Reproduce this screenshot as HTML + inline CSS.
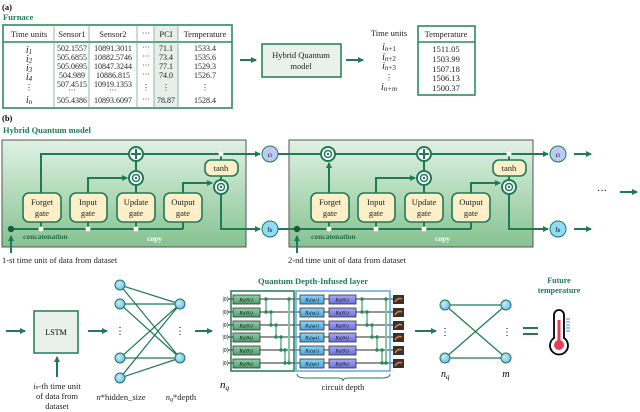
<!DOCTYPE html>
<html><head><meta charset="utf-8"><style>
html,body{margin:0;padding:0;background:#fff;}
svg{display:block;font-family:"Liberation Serif",serif;}
.g{fill:#1f7a55;}
.ln{stroke:#1f7a55;stroke-width:2;fill:none;}
.tb{stroke:#2e8a62;fill:none;stroke-width:1.6;}
.th{stroke:#6fae90;stroke-width:0.8;}
.gate{fill:#fdf0c8;stroke:#1f7a55;stroke-width:1.6;}
.t{font-size:8.5px;fill:#222;}
.gt{font-size:8.5px;fill:#222;}
.wire{stroke:#555;stroke-width:1.3;}
.cx{stroke:#86c4a4;stroke-width:2;}
</style></head><body>
<svg width="640" height="412" viewBox="0 0 640 412">
<defs>
<marker id="ar" markerWidth="6" markerHeight="6" refX="5" refY="3" orient="auto" markerUnits="userSpaceOnUse"><path d="M0,0 L6,3 L0,6 z" fill="#1f7a55"/></marker>
<linearGradient id="cg" x1="0" y1="0" x2="0" y2="1"><stop offset="0" stop-color="#dff2e4"/><stop offset="1" stop-color="#86c290"/></linearGradient>
<linearGradient id="gg" x1="0" y1="0" x2="0" y2="1"><stop offset="0" stop-color="#8fd0a4"/><stop offset="1" stop-color="#4e9e6c"/></linearGradient>
<linearGradient id="bg" x1="0" y1="0" x2="0" y2="1"><stop offset="0" stop-color="#8fd2f5"/><stop offset="1" stop-color="#4aa4dc"/></linearGradient>
<linearGradient id="pg" x1="0" y1="0" x2="0" y2="1"><stop offset="0" stop-color="#a6a9f5"/><stop offset="1" stop-color="#6a6fdc"/></linearGradient>
<radialGradient id="nd" cx="0.4" cy="0.4" r="0.7"><stop offset="0" stop-color="#c9ecfb"/><stop offset="1" stop-color="#5fb6e4"/></radialGradient>
</defs>

<!-- (a) -->
<text x="2" y="10" font-size="8.5" font-weight="bold">(a)</text>
<text x="3" y="20" font-size="8.5" font-weight="bold" class="g">Furnace</text>
<rect x="154" y="25" width="24" height="83" fill="#e6efea"/>
<rect x="3" y="25" width="229" height="83" class="tb"/>
<line x1="3" y1="42" x2="232" y2="42" class="tb"/>
<g class="th"><line x1="54" y1="25" x2="54" y2="108"/><line x1="89" y1="25" x2="89" y2="108"/><line x1="137" y1="25" x2="137" y2="108"/><line x1="154" y1="25" x2="154" y2="108"/><line x1="178" y1="25" x2="178" y2="108"/></g>
<g class="t" text-anchor="middle">
<text x="29" y="37">Time units</text><text x="72" y="37">Sensor1</text><text x="113" y="37">Sensor2</text><text x="146" y="36">···</text><text x="166" y="37">PCI</text><text x="205" y="37">Temperature</text>
<g font-style="italic" font-size="10"><text x="29" y="53">i<tspan font-size="7" dy="1">1</tspan></text><text x="29" y="62">i<tspan font-size="7" dy="1">2</tspan></text><text x="29" y="71">i<tspan font-size="7" dy="1">3</tspan></text><text x="29" y="80">i<tspan font-size="7" dy="1">4</tspan></text><text x="29" y="103">i<tspan font-size="7" dy="1">n</tspan></text></g>
<text x="29" y="90">⋮</text>
<g font-size="8"><text x="72" y="51">502.1557</text><text x="72" y="60">505.6855</text><text x="72" y="69">505.0695</text><text x="72" y="78">504.989</text><text x="72" y="87">507.4515</text><text x="72" y="93">···</text><text x="72" y="103">505.4386</text>
<text x="113" y="51">10891.3011</text><text x="113" y="60">10882.5746</text><text x="113" y="69">10847.3244</text><text x="113" y="78">10886.815</text><text x="113" y="87">10919.1353</text><text x="113" y="93">···</text><text x="113" y="103">10893.6097</text>
<text x="146" y="50">···</text><text x="146" y="59">···</text><text x="146" y="68">···</text><text x="146" y="77">···</text><text x="146" y="90">⋮</text><text x="146" y="102">···</text>
<text x="166" y="51">71.1</text><text x="166" y="60">73.4</text><text x="166" y="69">77.1</text><text x="166" y="78">74.0</text><text x="166" y="90">⋮</text><text x="166" y="103">78.87</text>
<text x="205" y="51">1533.4</text><text x="205" y="60">1535.6</text><text x="205" y="69">1529.3</text><text x="205" y="78">1526.7</text><text x="205" y="90">⋮</text><text x="205" y="103">1528.4</text></g>
</g>
<line x1="240" y1="60" x2="256" y2="60" class="ln" marker-end="url(#ar)"/>
<rect x="262" y="44" width="79" height="33" fill="#eaf0ec" stroke="#1f7a55" stroke-width="1.5"/>
<text x="301" y="58" class="t" font-size="8" text-anchor="middle">Hybrid Quantum</text>
<text x="301" y="69" class="t" font-size="8" text-anchor="middle">model</text>
<line x1="346" y1="60" x2="363" y2="60" class="ln" marker-end="url(#ar)"/>
<g class="t" text-anchor="middle"><text x="389" y="36">Time units</text>
<g font-style="italic" font-size="10"><text x="389" y="50">i<tspan font-size="7" dy="1">n</tspan><tspan font-style="normal" font-size="7">+1</tspan></text><text x="389" y="60">i<tspan font-size="7" dy="1">n</tspan><tspan font-style="normal" font-size="7">+2</tspan></text><text x="389" y="69">i<tspan font-size="7" dy="1">n</tspan><tspan font-style="normal" font-size="7">+3</tspan></text><text x="389" y="90">i<tspan font-size="7" dy="1">n+m</tspan></text></g>
<text x="389" y="80">⋮</text></g>
<rect x="418" y="26" width="57" height="69" class="tb"/>
<line x1="418" y1="42" x2="475" y2="42" class="tb"/>
<g class="t" text-anchor="middle" font-size="8"><text x="446" y="37" font-size="8.5">Temperature</text><text x="446" y="52">1511.05</text><text x="446" y="62">1503.99</text><text x="446" y="72">1507.18</text><text x="446" y="81">1506.13</text><text x="446" y="91">1500.37</text></g>

<!-- (b) -->
<text x="2" y="121" font-size="8.5" font-weight="bold">(b)</text>
<text x="3" y="133" font-size="8.5" font-weight="bold" class="g">Hybrid Quantum model</text>

<!-- cell 1 -->
<g>
<rect x="2" y="140" width="244" height="107" fill="url(#cg)" stroke="#555" stroke-width="1"/>
<path d="M41 193 V154 H129" class="ln"/>
<path d="M143 154 H260" class="ln" marker-end="url(#ar)"/>
<path d="M88 193 V178 H127" class="ln" marker-end="url(#ar)"/>
<path d="M136 193 V185 M136 171 V161 M221 154 V160 M221 176 V180" class="ln"/>
<path d="M183 193 V183 H212" class="ln" marker-end="url(#ar)"/>
<path d="M221 194 V229 H260" class="ln" marker-end="url(#ar)"/>
<path d="M11 229 H183 M41 222 V229 M88 222 V229 M136 222 V229 M183 222 V229" class="ln"/>
<path d="M11 253 V236" class="ln" marker-end="url(#ar)"/>
<rect x="23" y="193" width="38" height="29" rx="6" class="gate"/><text x="42" y="205" class="gt" text-anchor="middle">Forget</text><text x="42" y="216" class="gt" text-anchor="middle">gate</text>
<rect x="70" y="193" width="37" height="29" rx="6" class="gate"/><text x="88" y="205" class="gt" text-anchor="middle">Input</text><text x="88" y="216" class="gt" text-anchor="middle">gate</text>
<rect x="117" y="193" width="38" height="29" rx="6" class="gate"/><text x="136" y="205" class="gt" text-anchor="middle">Update</text><text x="136" y="216" class="gt" text-anchor="middle">gate</text>
<rect x="164" y="193" width="38" height="29" rx="6" class="gate"/><text x="183" y="205" class="gt" text-anchor="middle">Output</text><text x="183" y="216" class="gt" text-anchor="middle">gate</text>
<rect x="205" y="160" width="33" height="16" rx="6" class="gate"/><text x="221" y="171" class="gt" text-anchor="middle">tanh</text>
<circle cx="136" cy="154" r="7" fill="#fff" stroke="#1f7a55" stroke-width="2"/><path d="M131 154 H141 M136 149 V159" class="ln"/>
<circle cx="136" cy="178" r="7" fill="#fff" stroke="#1f7a55" stroke-width="2"/><circle cx="136" cy="178" r="3.5" fill="none" stroke="#1f7a55" stroke-width="1.5"/><circle cx="136" cy="178" r="1.2" class="g"/>
<circle cx="221" cy="187" r="7" fill="#fff" stroke="#1f7a55" stroke-width="2"/><circle cx="221" cy="187" r="3.5" fill="none" stroke="#1f7a55" stroke-width="1.5"/><circle cx="221" cy="187" r="1.2" class="g"/>
<g fill="#fff"><circle cx="41" cy="229" r="2.5"/><circle cx="88" cy="229" r="2.5"/><circle cx="136" cy="229" r="2.5"/><circle cx="221" cy="154" r="2.5"/></g>
<circle cx="11" cy="229" r="3.2" fill="#1a5a3e"/>
<text x="23" y="239" font-size="7.5" font-weight="bold" fill="#1f6a4a">concatenation</text>
<text x="147" y="241" font-size="7.5" font-weight="bold" fill="#fff">copy</text>
<text x="2" y="263" class="t" font-size="8">1-st time unit of data from dataset</text>
</g>
<circle cx="270" cy="154" r="8" fill="#bccbf6" stroke="#1f7a55" stroke-width="1"/><text x="270" y="157" font-size="7" font-style="italic" text-anchor="middle">c<tspan font-size="5">t</tspan></text>
<circle cx="270" cy="229" r="8" fill="#8edcf8" stroke="#1f7a55" stroke-width="1"/><text x="270" y="232" font-size="7" font-style="italic" text-anchor="middle">h<tspan font-size="5">t</tspan></text>

<!-- cell 2 -->
<g transform="translate(288,0)">
<rect x="1" y="140" width="244" height="107" fill="url(#cg)" stroke="#555" stroke-width="1"/>
<path d="M-10 154 H33 M47 154 H129" class="ln"/>
<path d="M41 193 V163" class="ln" marker-end="url(#ar)"/>
<path d="M143 154 H260" class="ln" marker-end="url(#ar)"/>
<path d="M88 193 V178 H127" class="ln" marker-end="url(#ar)"/>
<path d="M136 193 V185 M136 171 V161 M221 154 V160 M221 176 V180" class="ln"/>
<path d="M183 193 V183 H212" class="ln" marker-end="url(#ar)"/>
<path d="M221 194 V229 H260" class="ln" marker-end="url(#ar)"/>
<path d="M-10 229 H183 M41 222 V229 M88 222 V229 M136 222 V229 M183 222 V229" class="ln"/>
<path d="M9 253 V236" class="ln" marker-end="url(#ar)"/>
<rect x="23" y="193" width="38" height="29" rx="6" class="gate"/><text x="42" y="205" class="gt" text-anchor="middle">Forget</text><text x="42" y="216" class="gt" text-anchor="middle">gate</text>
<rect x="70" y="193" width="37" height="29" rx="6" class="gate"/><text x="88" y="205" class="gt" text-anchor="middle">Input</text><text x="88" y="216" class="gt" text-anchor="middle">gate</text>
<rect x="117" y="193" width="38" height="29" rx="6" class="gate"/><text x="136" y="205" class="gt" text-anchor="middle">Update</text><text x="136" y="216" class="gt" text-anchor="middle">gate</text>
<rect x="164" y="193" width="38" height="29" rx="6" class="gate"/><text x="183" y="205" class="gt" text-anchor="middle">Output</text><text x="183" y="216" class="gt" text-anchor="middle">gate</text>
<rect x="205" y="160" width="33" height="16" rx="6" class="gate"/><text x="221" y="171" class="gt" text-anchor="middle">tanh</text>
<circle cx="40" cy="154" r="7" fill="#fff" stroke="#1f7a55" stroke-width="2"/><circle cx="40" cy="154" r="3.5" fill="none" stroke="#1f7a55" stroke-width="1.5"/><circle cx="40" cy="154" r="1.2" class="g"/>
<circle cx="136" cy="154" r="7" fill="#fff" stroke="#1f7a55" stroke-width="2"/><path d="M131 154 H141 M136 149 V159" class="ln"/>
<circle cx="136" cy="178" r="7" fill="#fff" stroke="#1f7a55" stroke-width="2"/><circle cx="136" cy="178" r="3.5" fill="none" stroke="#1f7a55" stroke-width="1.5"/><circle cx="136" cy="178" r="1.2" class="g"/>
<circle cx="221" cy="187" r="7" fill="#fff" stroke="#1f7a55" stroke-width="2"/><circle cx="221" cy="187" r="3.5" fill="none" stroke="#1f7a55" stroke-width="1.5"/><circle cx="221" cy="187" r="1.2" class="g"/>
<g fill="#fff"><circle cx="41" cy="229" r="2.5"/><circle cx="88" cy="229" r="2.5"/><circle cx="136" cy="229" r="2.5"/><circle cx="221" cy="154" r="2.5"/></g>
<circle cx="9" cy="229" r="3.2" fill="#1a5a3e"/>
<text x="23" y="239" font-size="7.5" font-weight="bold" fill="#1f6a4a">concatenation</text>
<text x="147" y="241" font-size="7.5" font-weight="bold" fill="#fff">copy</text>
<text x="0" y="263" class="t" font-size="8">2-nd time unit of data from dataset</text>
</g>
<circle cx="558" cy="154" r="8" fill="#bccbf6" stroke="#1f7a55" stroke-width="1"/><text x="558" y="157" font-size="7" font-style="italic" text-anchor="middle">c<tspan font-size="5">t</tspan></text>
<circle cx="558" cy="229" r="8" fill="#8edcf8" stroke="#1f7a55" stroke-width="1"/><text x="558" y="232" font-size="7" font-style="italic" text-anchor="middle">h<tspan font-size="5">t</tspan></text>
<line x1="574" y1="154" x2="591" y2="154" class="ln" marker-end="url(#ar)"/>
<line x1="574" y1="229" x2="591" y2="229" class="ln" marker-end="url(#ar)"/>
<text x="602" y="194" font-size="10" text-anchor="middle">···</text>
<line x1="620" y1="192" x2="637" y2="192" class="ln" marker-end="url(#ar)"/>

<!-- bottom -->
<line x1="6" y1="331" x2="25" y2="331" class="ln" marker-end="url(#ar)"/>
<rect x="34" y="311" width="44" height="42" fill="#eaf0ec" stroke="#1f7a55" stroke-width="1.5"/>
<text x="56" y="335" font-size="8" text-anchor="middle">LSTM</text>
<line x1="57" y1="377" x2="57" y2="357" class="ln" marker-end="url(#ar)"/>
<g class="t" font-size="8" text-anchor="middle"><text x="57" y="389"><tspan font-style="italic">i<tspan font-size="6">n</tspan></tspan>-th time unit</text><text x="57" y="399">of data from</text><text x="57" y="409">dataset</text></g>
<line x1="88" y1="331" x2="107" y2="331" class="ln" marker-end="url(#ar)"/>
<g stroke="#1f7a55" stroke-width="1.2">
<line x1="120" y1="285" x2="180" y2="304"/><line x1="120" y1="285" x2="180" y2="358"/>
<line x1="120" y1="304" x2="180" y2="304"/><line x1="120" y1="304" x2="180" y2="358"/>
<line x1="120" y1="358" x2="180" y2="304"/><line x1="120" y1="358" x2="180" y2="358"/>
<line x1="120" y1="378" x2="180" y2="304"/><line x1="120" y1="378" x2="180" y2="358"/>
</g>
<g fill="url(#nd)" stroke="#1f7a55" stroke-width="1"><circle cx="120" cy="285" r="5"/><circle cx="120" cy="304" r="5"/><circle cx="120" cy="358" r="5"/><circle cx="120" cy="378" r="5"/><circle cx="180" cy="304" r="5"/><circle cx="180" cy="358" r="5"/></g>
<text x="120" y="334" font-size="10" text-anchor="middle">⋮</text><text x="180" y="334" font-size="10" text-anchor="middle">⋮</text>
<g class="t" font-size="8" text-anchor="middle"><text x="121" y="400"><tspan font-style="italic">n</tspan>*hidden_size</text><text x="181" y="400"><tspan font-style="italic">n<tspan font-size="6" dy="1">q</tspan></tspan><tspan dy="-1">*depth</tspan></text></g>
<line x1="195" y1="331" x2="212" y2="331" class="ln" marker-end="url(#ar)"/>

<!-- quantum -->
<text x="313" y="284" font-size="8.5" font-weight="bold" class="g" text-anchor="middle">Quantum Depth-Infused layer</text>
<g class="wire"><line x1="228" y1="299" x2="393" y2="299"/><line x1="228" y1="312" x2="393" y2="312"/><line x1="228" y1="325" x2="393" y2="325"/><line x1="228" y1="337" x2="393" y2="337"/><line x1="228" y1="350" x2="393" y2="350"/><line x1="228" y1="363" x2="393" y2="363"/></g>
<g font-size="6" text-anchor="end"><text x="229" y="301">|0⟩</text><text x="229" y="314">|0⟩</text><text x="229" y="327">|0⟩</text><text x="229" y="339">|0⟩</text><text x="229" y="352">|0⟩</text><text x="229" y="365">|0⟩</text></g>
<g class="cx">
<line x1="266" y1="299" x2="266" y2="312"/><line x1="271" y1="312" x2="271" y2="325"/><line x1="276" y1="325" x2="276" y2="337"/><line x1="281" y1="337" x2="281" y2="350"/><line x1="285" y1="350" x2="285" y2="363"/><line x1="289" y1="299" x2="289" y2="363"/>
<line x1="362" y1="299" x2="362" y2="312"/><line x1="367" y1="312" x2="367" y2="325"/><line x1="372" y1="325" x2="372" y2="337"/><line x1="377" y1="337" x2="377" y2="350"/><line x1="382" y1="350" x2="382" y2="363"/><line x1="386" y1="299" x2="386" y2="363"/>
</g>
<g fill="#2a8a5e">
<circle cx="266" cy="299" r="1.8"/><circle cx="266" cy="312" r="1.8"/><circle cx="271" cy="312" r="1.8"/><circle cx="271" cy="325" r="1.8"/><circle cx="276" cy="325" r="1.8"/><circle cx="276" cy="337" r="1.8"/><circle cx="281" cy="337" r="1.8"/><circle cx="281" cy="350" r="1.8"/><circle cx="285" cy="350" r="1.8"/><circle cx="285" cy="363" r="1.8"/><circle cx="289" cy="299" r="1.8"/><circle cx="289" cy="363" r="1.8"/>
<circle cx="362" cy="299" r="1.8"/><circle cx="362" cy="312" r="1.8"/><circle cx="367" cy="312" r="1.8"/><circle cx="367" cy="325" r="1.8"/><circle cx="372" cy="325" r="1.8"/><circle cx="372" cy="337" r="1.8"/><circle cx="377" cy="337" r="1.8"/><circle cx="377" cy="350" r="1.8"/><circle cx="382" cy="350" r="1.8"/><circle cx="382" cy="363" r="1.8"/><circle cx="386" cy="299" r="1.8"/><circle cx="386" cy="363" r="1.8"/>
</g>
<g stroke="#333" stroke-width="0.8">
<g fill="url(#gg)"><rect x="233" y="295" width="27" height="9"/><rect x="233" y="308" width="27" height="9"/><rect x="233" y="321" width="27" height="9"/><rect x="233" y="333" width="27" height="9"/><rect x="233" y="346" width="27" height="9"/><rect x="233" y="359" width="27" height="9"/></g>
<g fill="url(#bg)"><rect x="300" y="295" width="24" height="9"/><rect x="300" y="308" width="24" height="9"/><rect x="300" y="321" width="24" height="9"/><rect x="300" y="333" width="24" height="9"/><rect x="300" y="346" width="24" height="9"/><rect x="300" y="359" width="24" height="9"/></g>
<g fill="url(#pg)"><rect x="329" y="295" width="27" height="9"/><rect x="329" y="308" width="27" height="9"/><rect x="329" y="321" width="27" height="9"/><rect x="329" y="333" width="27" height="9"/><rect x="329" y="346" width="27" height="9"/><rect x="329" y="359" width="27" height="9"/></g>
</g>
<g font-size="5.5" font-style="italic" text-anchor="middle" fill="#111">
<text x="246" y="301.5">R<tspan font-size="4">z</tspan>(θ<tspan font-size="4">1</tspan>)</text><text x="246" y="314.5">R<tspan font-size="4">z</tspan>(θ<tspan font-size="4">2</tspan>)</text><text x="246" y="327.5">R<tspan font-size="4">z</tspan>(θ<tspan font-size="4">3</tspan>)</text><text x="246" y="339.5">R<tspan font-size="4">z</tspan>(θ<tspan font-size="4">4</tspan>)</text><text x="246" y="352.5">R<tspan font-size="4">z</tspan>(θ<tspan font-size="4">5</tspan>)</text><text x="246" y="365.5">R<tspan font-size="4">z</tspan>(θ<tspan font-size="4">6</tspan>)</text>
<text x="312" y="301.5">R<tspan font-size="4">x</tspan>(φ<tspan font-size="4">1</tspan>)</text><text x="312" y="314.5">R<tspan font-size="4">x</tspan>(φ<tspan font-size="4">2</tspan>)</text><text x="312" y="327.5">R<tspan font-size="4">x</tspan>(φ<tspan font-size="4">3</tspan>)</text><text x="312" y="339.5">R<tspan font-size="4">x</tspan>(φ<tspan font-size="4">4</tspan>)</text><text x="312" y="352.5">R<tspan font-size="4">x</tspan>(φ<tspan font-size="4">5</tspan>)</text><text x="312" y="365.5">R<tspan font-size="4">x</tspan>(φ<tspan font-size="4">6</tspan>)</text>
<text x="342" y="301.5">R<tspan font-size="4">z</tspan>(θ<tspan font-size="4">1</tspan>)</text><text x="342" y="314.5">R<tspan font-size="4">z</tspan>(θ<tspan font-size="4">2</tspan>)</text><text x="342" y="327.5">R<tspan font-size="4">z</tspan>(θ<tspan font-size="4">3</tspan>)</text><text x="342" y="339.5">R<tspan font-size="4">z</tspan>(θ<tspan font-size="4">4</tspan>)</text><text x="342" y="352.5">R<tspan font-size="4">z</tspan>(θ<tspan font-size="4">5</tspan>)</text><text x="342" y="365.5">R<tspan font-size="4">z</tspan>(θ<tspan font-size="4">6</tspan>)</text>
</g>
<rect x="231" y="291" width="63" height="80" fill="none" stroke="#1f7a55" stroke-width="1.5"/>
<rect x="296" y="291" width="94" height="80" fill="none" stroke="#5aa8e6" stroke-width="1.5"/>
<g>
<rect x="393" y="295" width="11" height="9" fill="#333"/><rect x="393" y="308" width="11" height="9" fill="#333"/><rect x="393" y="321" width="11" height="9" fill="#333"/><rect x="393" y="333" width="11" height="9" fill="#333"/><rect x="393" y="346" width="11" height="9" fill="#333"/><rect x="393" y="359" width="11" height="9" fill="#333"/>
<g fill="none" stroke="#f07a2a" stroke-width="1.5"><path d="M395 302 Q398 297 402 299"/><path d="M395 315 Q398 310 402 312"/><path d="M395 328 Q398 323 402 325"/><path d="M395 340 Q398 335 402 337"/><path d="M395 353 Q398 348 402 350"/><path d="M395 366 Q398 361 402 363"/></g>
</g>
<path d="M297 374 Q297 378 306 378 L338 378 Q343 378 343 381 Q343 378 348 378 L381 378 Q390 378 390 374" fill="none" stroke="#1f7a55" stroke-width="1"/>
<text x="343" y="390" font-size="8" text-anchor="middle" class="t">circuit depth</text>
<text x="220" y="388" font-size="11" font-style="italic">n<tspan font-size="7" dy="2">q</tspan></text>
<line x1="415" y1="331" x2="436" y2="331" class="ln" marker-end="url(#ar)"/>
<g stroke="#1f7a55" stroke-width="1.2"><line x1="445" y1="305" x2="506" y2="305"/><line x1="445" y1="358" x2="506" y2="358"/><line x1="445" y1="305" x2="506" y2="358"/><line x1="445" y1="358" x2="506" y2="305"/></g>
<g fill="url(#nd)" stroke="#1f7a55" stroke-width="1"><circle cx="445" cy="305" r="5"/><circle cx="445" cy="358" r="5"/><circle cx="506" cy="305" r="5"/><circle cx="506" cy="358" r="5"/></g>
<text x="445" y="335" font-size="10" text-anchor="middle">⋮</text><text x="507" y="335" font-size="10" text-anchor="middle">⋮</text>
<text x="441" y="377" font-size="10" font-style="italic">n<tspan font-size="7" dy="2">q</tspan></text>
<text x="506" y="377" font-size="10" font-style="italic" text-anchor="middle">m</text>
<path d="M523 328 H538 M523 334 H538" stroke="#1f7a55" stroke-width="2"/>
<text x="559" y="283" font-size="8" font-weight="bold" class="g" text-anchor="middle">Future</text>
<text x="559" y="293" font-size="8" font-weight="bold" class="g" text-anchor="middle">temperature</text>
<path d="M554 338 V315 A5 5 0 0 1 564 315 V338 A9 9 0 1 1 554 338 Z" fill="#fff" stroke="#000" stroke-width="1.8"/>
<rect x="557.5" y="320" width="3" height="24" fill="#e0405a"/>
<circle cx="559" cy="345" r="5" fill="#e0405a"/>
<g stroke="#3a8ed8" stroke-width="1"><line x1="566" y1="319" x2="570" y2="319"/><line x1="566" y1="322" x2="570" y2="322"/><line x1="566" y1="325" x2="570" y2="325"/><line x1="566" y1="328" x2="570" y2="328"/><line x1="566" y1="331" x2="570" y2="331"/></g>
</svg>
</body></html>
